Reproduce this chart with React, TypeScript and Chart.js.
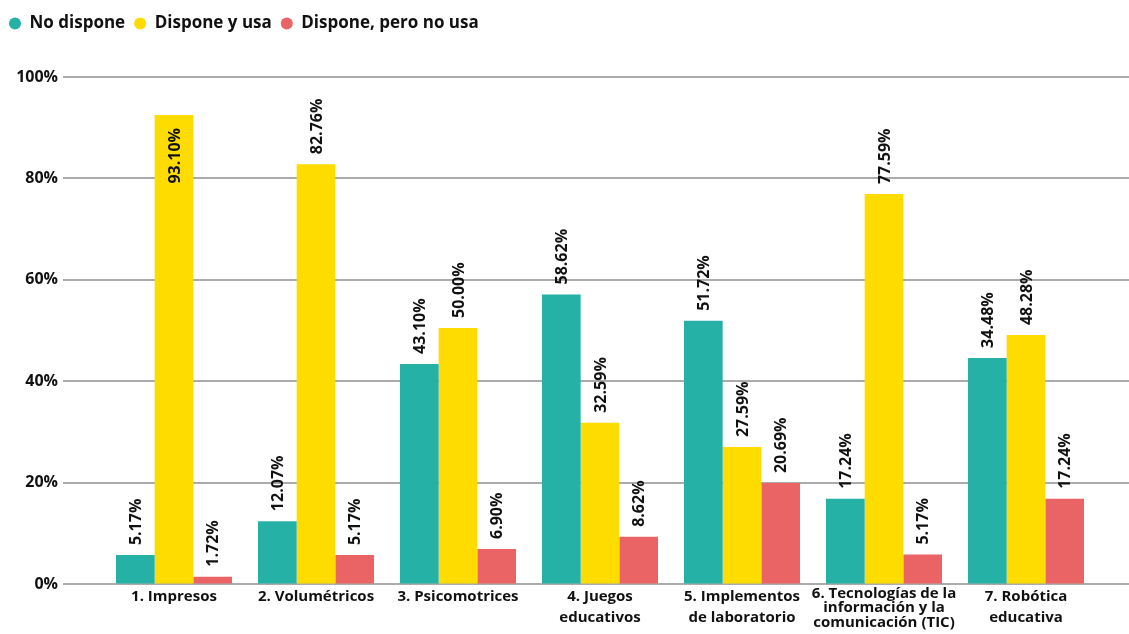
import React, { useEffect, useRef } from "react";
import { Chart, registerables } from "chart.js";

Chart.register(...registerables);

const categories: (string | string[])[] = [
  "1. Impresos",
  "2. Volumétricos",
  "3. Psicomotrices",
  ["4. Juegos", "educativos"],
  ["5. Implementos", "de laboratorio"],
  ["6. Tecnologías de la", "información y la", "comunicación (TIC)"],
  ["7. Robótica", "educativa"],
];

const seriesNames = ["No dispone", "Dispone y usa", "Dispone, pero no usa"];

// bar heights (%)
const noDispone = [5.7, 12.4, 43.4, 57.1, 51.9, 16.8, 44.6];
const disponeYUsa = [92.5, 82.8, 50.5, 31.8, 27.0, 76.9, 49.1];
const disponeNoUsa = [1.44, 5.7, 6.9, 9.3, 19.9, 5.8, 16.8];

// value labels as printed in the picture
const noDisponeLabels = ["5.17%", "12.07%", "43.10%", "58.62%", "51.72%", "17.24%", "34.48%"];
const disponeYUsaLabels = ["93.10%", "82.76%", "50.00%", "32.59%", "27.59%", "77.59%", "48.28%"];
const disponeNoUsaLabels = ["1.72%", "5.17%", "6.90%", "8.62%", "20.69%", "5.17%", "17.24%"];

const yTicks = [0, 20, 40, 60, 80, 100];

const colors = ["#26B1A7", "#FFDC00", "#EA6466"];
const FONT = "'Open Sans', 'Noto Sans', sans-serif";
const TEXT = "#111111";

export default function App() {
  const ref = useRef<HTMLCanvasElement | null>(null);

  useEffect(() => {
    if (!ref.current) return;
    const valueLabels = [noDisponeLabels, disponeYUsaLabels, disponeNoUsaLabels];

    const gridPlugin = {
      id: "customGrid",
      beforeDatasetsDraw(chart: any) {
        const ctx = chart.ctx;
        const y = chart.scales.y;
        ctx.save();
        ctx.strokeStyle = "#ABABAB";
        ctx.lineWidth = 2;
        yTicks.forEach((v) => {
          const py = Math.round(y.getPixelForValue(v));
          ctx.beginPath();
          ctx.moveTo(63, py);
          ctx.lineTo(chart.width, py);
          ctx.stroke();
        });
        ctx.restore();
      },
    };

    const labelPlugin = {
      id: "valueLabels",
      afterDatasetsDraw(chart: any) {
        const ctx = chart.ctx;
        ctx.save();
        ctx.fillStyle = TEXT;
        ctx.font = `bold 16px ${FONT}`;
        ctx.textBaseline = "middle";
        chart.data.datasets.forEach((_: any, di: number) => {
          const meta = chart.getDatasetMeta(di);
          meta.data.forEach((el: any, i: number) => {
            const text = valueLabels[di][i];
            const w = ctx.measureText(text).width;
            const top = el.y;
            ctx.save();
            if (top - 10 - w < chart.chartArea.top - 10) {
              ctx.translate(el.x, top + 13);
              ctx.rotate(-Math.PI / 2);
              ctx.textAlign = "right";
            } else {
              ctx.translate(el.x, top - 10);
              ctx.rotate(-Math.PI / 2);
              ctx.textAlign = "left";
            }
            ctx.fillText(text, 0, 1);
            ctx.restore();
          });
        });
        ctx.restore();
      },
    };

    const legendHeightPlugin = {
      id: "legendHeight",
      beforeLayout(chart: any) {
        const lg = chart.legend;
        if (lg && !lg._patched) {
          const orig = lg.fit;
          lg.fit = function () {
            orig.call(this);
            this.height = 71;
          };
          lg._patched = true;
        }
      },
    };

    const chart = new Chart(ref.current, {
      type: "bar",
      data: {
        labels: categories,
        datasets: [noDispone, disponeYUsa, disponeNoUsa].map((d, i) => ({
          label: seriesNames[i],
          data: d,
          backgroundColor: colors[i],
          borderWidth: 0,
          categoryPercentage: 0.817,
          barPercentage: 1.0,
        })),
      },
      options: {
        responsive: false,
        animation: false,
        layout: { padding: { left: 0, right: 32, top: 6, bottom: 0 } },
        plugins: {
          tooltip: { enabled: false },
          legend: {
            position: "top",
            align: "start",
            labels: {
              usePointStyle: true,
              pointStyle: "circle",
              boxWidth: 12,
              boxHeight: 8.5,
              padding: 9,
              color: TEXT,
              font: { family: FONT, size: 17, weight: "bold" },
            },
          },
        },
        scales: {
          x: {
            grid: { display: false, drawTicks: false },
            border: { display: false },
            ticks: {
              maxRotation: 0,
              minRotation: 0,
              autoSkip: false,
              padding: 2,
              color: TEXT,
              font: (ctx: any) => ({
                family: FONT,
                size: 15,
                weight: "bold",
                lineHeight: ctx.index === 5 ? "14.5px" : "21px",
              }),
            },
            afterFit(scale: any) {
              scale.height = 50;
            },
          },
          y: {
            min: 0,
            max: 100,
            grid: {
              display: true,
              drawOnChartArea: false,
              drawTicks: true,
              tickLength: 40,
              color: "rgba(0,0,0,0)",
            },
            border: { display: false },
            ticks: {
              stepSize: 20,
              padding: 5,
              color: TEXT,
              font: { family: FONT, size: 16, weight: "bold" },
              callback: (v: any) => v + "%",
            },
            afterFit(scale: any) {
              scale.width = 103;
            },
          },
        },
      },
      plugins: [gridPlugin, labelPlugin, legendHeightPlugin],
    });
    return () => chart.destroy();
  }, []);

  return (
    <div style={{ position: "absolute", left: 0, top: 0, width: 1129, height: 634, background: "#fff" }}>
      <canvas ref={ref} width={1129} height={634} />
    </div>
  );
}
